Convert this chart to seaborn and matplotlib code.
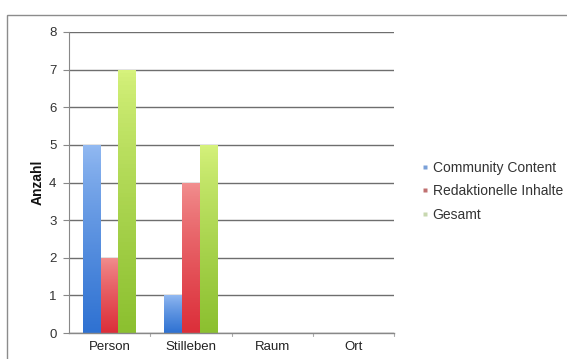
import numpy as np
import pandas as pd
import matplotlib
matplotlib.use("Agg")
import matplotlib.pyplot as plt
import seaborn as sns
from matplotlib.colors import LinearSegmentedColormap
from matplotlib.lines import Line2D
from matplotlib.patches import Rectangle

categories = ["Person", "Stilleben", "Raum", "Ort"]
series_names = ["Community Content", "Redaktionelle Inhalte", "Gesamt"]
community = [5, 1, 0, 0]
redaktionell = [2, 4, 0, 0]
gesamt = [7, 5, 0, 0]
y_ticks = [0, 1, 2, 3, 4, 5, 6, 7, 8]

# gradient colours per series (top, bottom)
grad = {
    "Community Content": ("#93baf2", "#2f72d2"),
    "Redaktionelle Inhalte": ("#f29090", "#dc2f3a"),
    "Gesamt": ("#d6f27c", "#8cc030"),
}

df = pd.DataFrame({
    "Kategorie": categories * 3,
    "Serie": sum([[s] * 4 for s in series_names], []),
    "Anzahl": community + redaktionell + gesamt,
})

sns.set_theme(style="white")
plt.rcParams["font.family"] = ["Liberation Sans", "DejaVu Sans"]

fig = plt.figure(figsize=(5.67, 3.59), dpi=100)
W, H = 567, 359
ax = fig.add_axes([69 / W, 1 - 333 / H, (394 - 69) / W, (333 - 32) / H])

palette = {s: grad[s][1] for s in series_names}
sns.barplot(data=df, x="Kategorie", y="Anzahl", hue="Serie", order=categories,
            hue_order=series_names, palette=palette, width=0.65, ax=ax,
            legend=False, saturation=1)

# replace flat bar fills with vertical gradients
for container, name in zip(ax.containers, series_names):
    cmap = LinearSegmentedColormap.from_list(name, [grad[name][0], grad[name][1]])
    for bar in container:
        h = bar.get_height()
        if h <= 0:
            bar.set_visible(False)
            continue
        x0 = bar.get_x()
        w = bar.get_width()
        img = np.linspace(0, 1, 64).reshape(-1, 1) ** 0.8
        im = ax.imshow(img, cmap=cmap, aspect="auto", extent=(x0, x0 + w, 0, h),
                       origin="upper", zorder=2, vmin=0, vmax=1)
        im.set_clip_path(bar)
        bar.set_facecolor("none")
        bar.set_edgecolor("none")

ax.set_xlim(-0.5, 3.5)
ax.set_ylim(0, 8)
ax.set_yticks(y_ticks)
ax.set_yticklabels([str(t) for t in y_ticks], fontsize=9.5, color="#333333")
ax.tick_params(axis="x", labelsize=9.5, colors="#222222", length=0, pad=6)
ax.tick_params(axis="y", length=4, width=0.8, color="#888888", pad=5, left=True)
ax.set_xlabel("")
ax.set_ylabel("Anzahl", fontsize=10, fontweight="bold", labelpad=3, color="#111111")

ax.yaxis.grid(True, color="#6e6e6e", linewidth=1.0)
ax.set_axisbelow(True)
for s in ["top", "right"]:
    ax.spines[s].set_visible(False)
ax.spines["left"].set_color("#888888")
ax.spines["bottom"].set_color("#888888")
ax.spines["left"].set_linewidth(0.8)
ax.spines["bottom"].set_linewidth(1.0)

# category separator ticks on the x axis
for xb in [0.5, 1.5, 2.5, 3.5]:
    ax.plot([xb, xb], [0, -0.08], color="#aaaaaa", lw=0.8, clip_on=False)

handles = [Line2D([0], [0], marker="s", linestyle="none", markersize=3,
                  markerfacecolor=c, markeredgecolor="none")
           for c in ["#7aa0d8", "#c07070", "#c8d8b0"]]
leg = fig.legend(handles, series_names, loc="upper left",
                 bbox_to_anchor=(416 / W, 1 - 155 / H), frameon=False,
                 fontsize=10, handlelength=0.5, handletextpad=0.3,
                 labelspacing=0.7, borderaxespad=0)
for t in leg.get_texts():
    t.set_color("#333333")

# outer chart frame
fig.patches.append(Rectangle((7 / W, -0.05), 1.0, 1 - 15 / H + 0.05,
                             transform=fig.transFigure, fill=False,
                             edgecolor="#8c8c8c", linewidth=1.0))

fig.savefig("out.png", dpi=100)
